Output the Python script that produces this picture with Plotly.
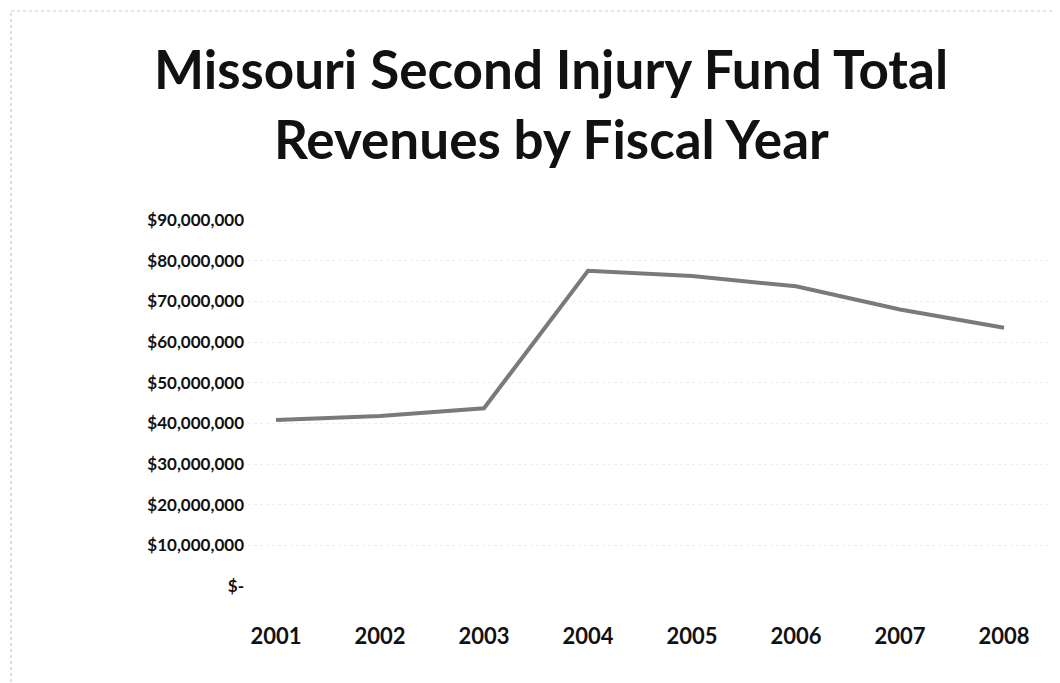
import plotly.graph_objects as go

years = ["2001", "2002", "2003", "2004", "2005", "2006", "2007", "2008"]
revenues = [40.8e6, 41.8e6, 43.7e6, 77.5e6, 76.2e6, 73.7e6, 68.0e6, 63.5e6]
ytick_vals = [0, 10e6, 20e6, 30e6, 40e6, 50e6, 60e6, 70e6, 80e6, 90e6]
ytick_text = ["$-", "$10,000,000", "$20,000,000", "$30,000,000", "$40,000,000",
              "$50,000,000", "$60,000,000", "$70,000,000", "$80,000,000", "$90,000,000"]
title_lines = ["Missouri Second Injury Fund Total", "Revenues by Fiscal Year"]

W, H = 1060, 683
L, R, T, B = 240, 12, 212, 105
ph = H - T - B
pw = W - L - R
first_px, step = 268, 104  # category layout in pixels
xr = [-(first_px - L) / step, 7 + (W - R - (first_px + 7 * step)) / step]

fig = go.Figure()
fig.add_trace(go.Scatter(
    x=years, y=revenues, mode="lines",
    line=dict(color="#7a7a7a", width=4),
    hoverinfo="x+y",
))

fig.update_layout(
    width=W, height=H,
    margin=dict(l=L, r=R, t=T, b=B),
    paper_bgcolor="white", plot_bgcolor="white",
    showlegend=False,
    font=dict(family="Lato", color="#111111"),
    xaxis=dict(
        type="category", range=xr,
        showgrid=False, zeroline=False, showline=False, ticks="",
        tickfont=dict(size=22, family="Lato", color="#111111", weight="bold"),
        ticklabelstandoff=35,
    ),
    yaxis=dict(
        range=[0, 90e6], tickvals=ytick_vals, ticktext=ytick_text,
        showgrid=True, gridcolor="#eeeeee", griddash="dot", gridwidth=1,
        zeroline=False, showline=False, ticks="",
        tickfont=dict(size=17, family="Lato", color="#111111", weight="bold"),
        ticklabelstandoff=3,
    ),
)

for i, (txt, ypx) in enumerate(zip(title_lines, [60, 130])):
    fig.add_annotation(
        text="<b>%s</b>" % txt, xref="paper", yref="paper",
        x=(543 - L) / pw, y=(H - B - ypx) / ph,
        xanchor="center", yanchor="middle", showarrow=False,
        font=dict(size=53, family="Lato", color="#111111"),
    )

# faint scanned border traces
fig.add_shape(type="line", xref="paper", yref="paper",
              x0=-(L - 3) / pw, x1=-(L - 3) / pw,
              y0=(H - B - 680) / ph, y1=(H - B - 3) / ph,
              line=dict(color="#bbbbbb", width=1, dash="dot"))
fig.add_shape(type="line", xref="paper", yref="paper",
              x0=-(L - 3) / pw, x1=1 + (R - 3) / pw,
              y0=(H - B - 3) / ph, y1=(H - B - 3) / ph,
              line=dict(color="#cccccc", width=1, dash="dot"))

fig.write_html("out.html")
